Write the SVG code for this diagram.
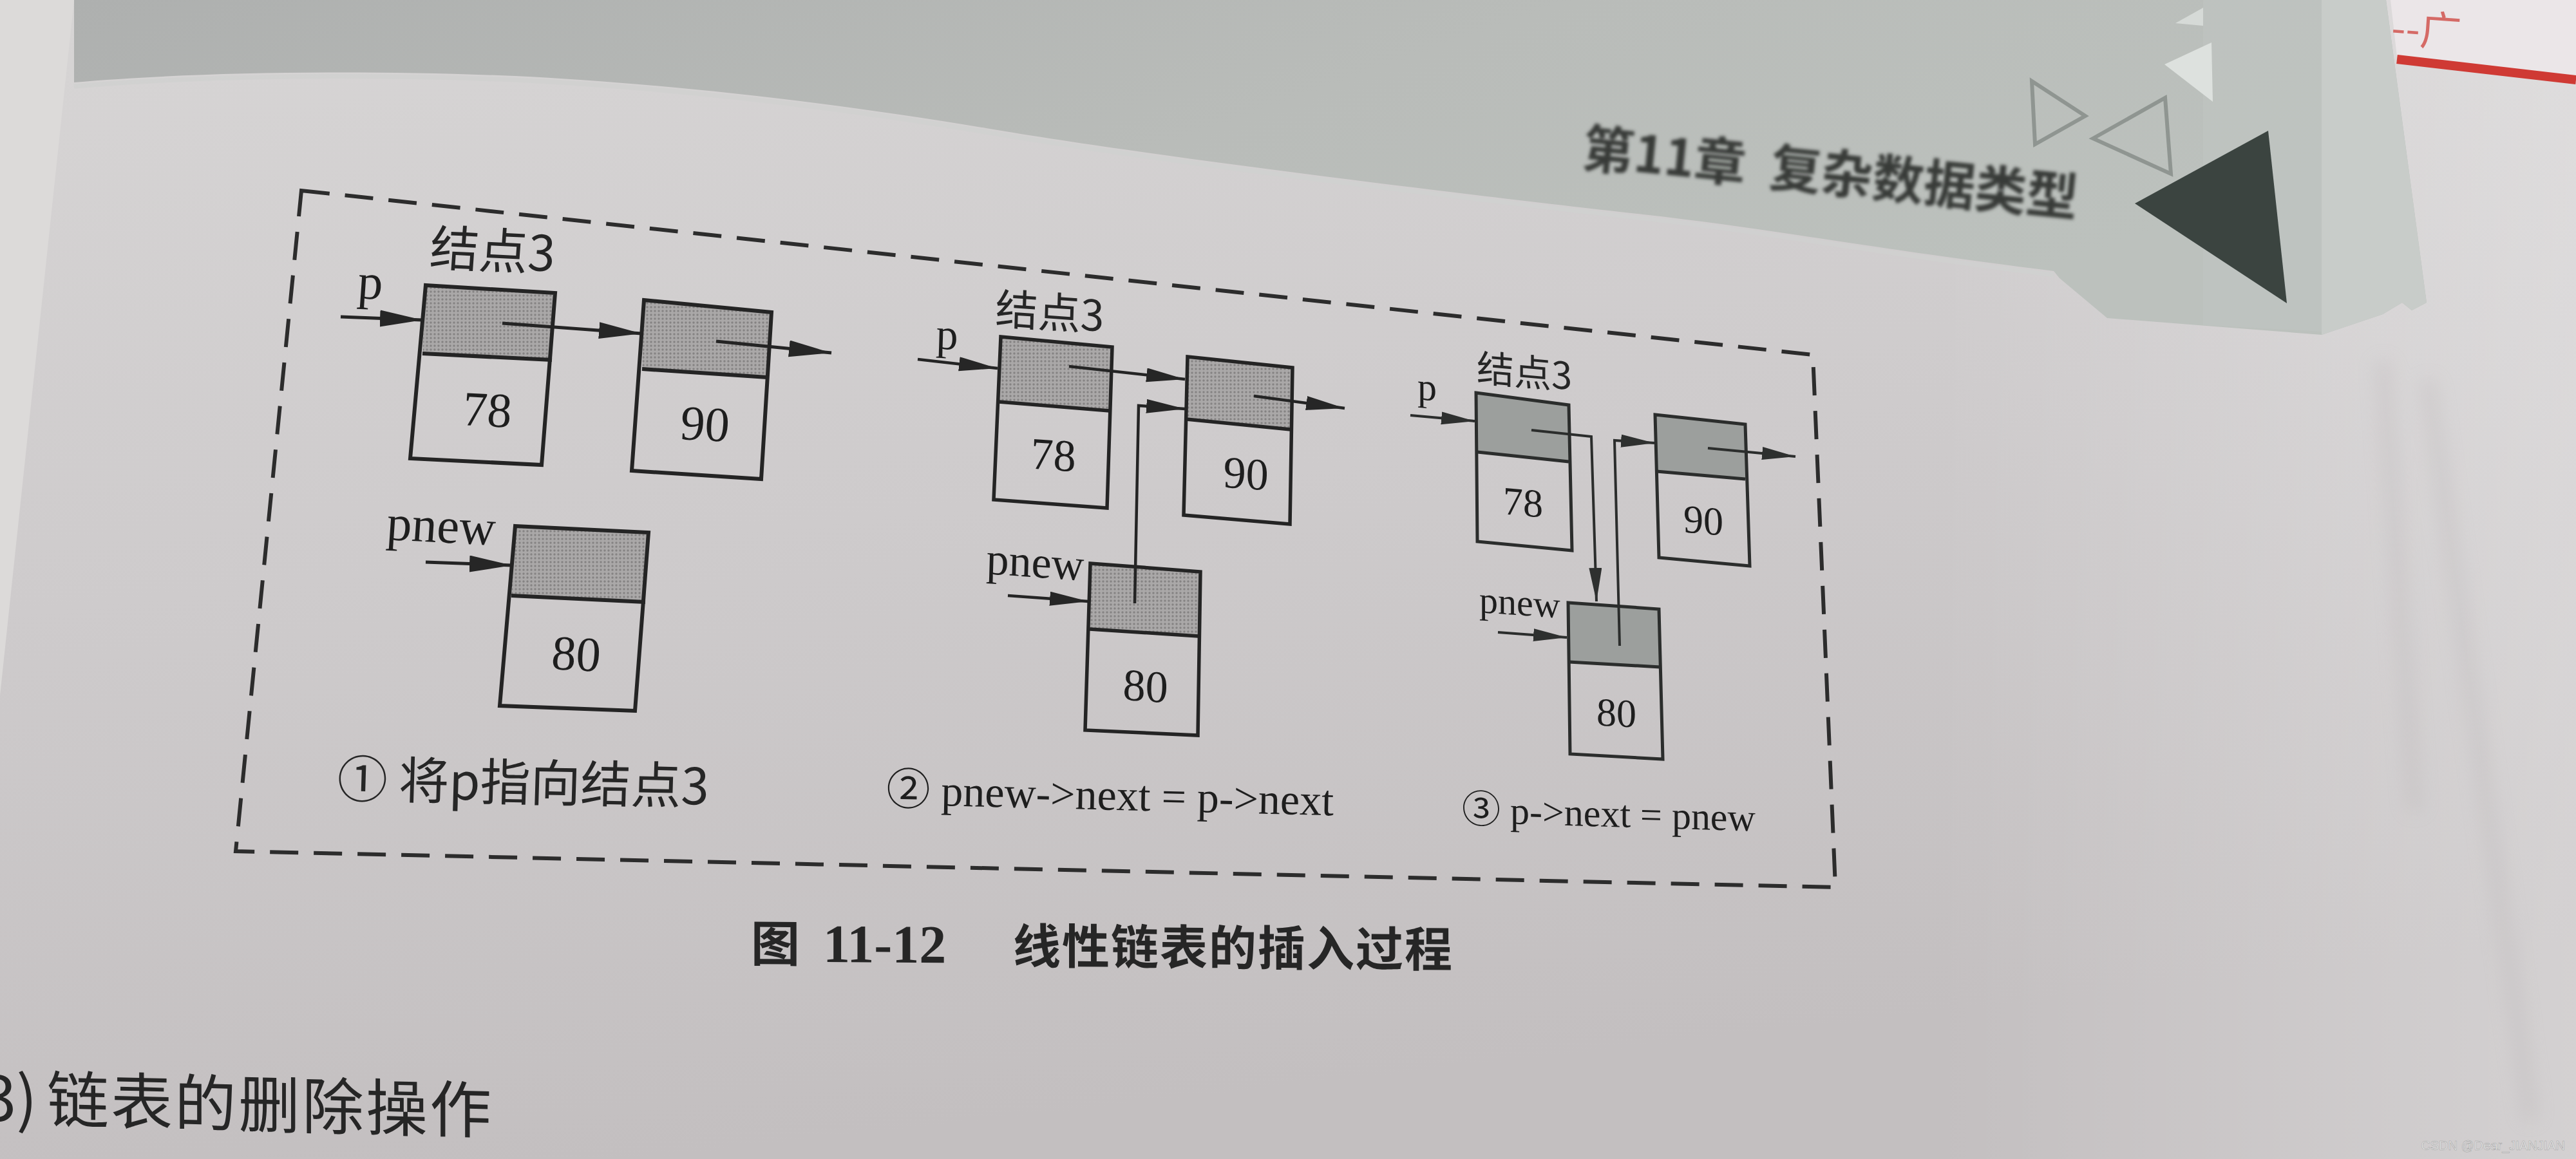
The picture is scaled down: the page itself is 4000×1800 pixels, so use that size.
<svg xmlns="http://www.w3.org/2000/svg" width="4000" height="1800" viewBox="0 0 4000 1800">
<defs>
  <linearGradient id="pageGrad" x1="0" y1="0" x2="0.25" y2="1">
    <stop offset="0" stop-color="#d7d5d5"/>
    <stop offset="0.5" stop-color="#cecbcc"/>
    <stop offset="1" stop-color="#c3bfc0"/>
  </linearGradient>
  <linearGradient id="rightLight" x1="0" y1="0" x2="1" y2="0">
    <stop offset="0.75" stop-color="#ffffff" stop-opacity="0"/>
    <stop offset="1" stop-color="#ffffff" stop-opacity="0.28"/>
  </linearGradient>
  <linearGradient id="bandGrad" x1="0" y1="0" x2="1" y2="0.4">
    <stop offset="0" stop-color="#aeb0af"/>
    <stop offset="0.55" stop-color="#b9bcb9"/>
    <stop offset="1" stop-color="#bcc1bd"/>
  </linearGradient>
  <pattern id="tone" width="6" height="6" patternUnits="userSpaceOnUse">
    <rect width="6" height="6" fill="#aaa8a8"/>
    <circle cx="3" cy="3" r="1.7" fill="#858383"/>
  </pattern>
  <marker id="ah1" markerUnits="userSpaceOnUse" markerWidth="70" markerHeight="30" refX="66" refY="13" orient="auto">
    <path d="M0,0 L66,13 L0,26 z" fill="#262626"/>
  </marker>
  <marker id="ah2" markerUnits="userSpaceOnUse" markerWidth="64" markerHeight="26" refX="60" refY="11" orient="auto">
    <path d="M0,0 L60,11 L0,22 z" fill="#262626"/>
  </marker>
  <marker id="ah3" markerUnits="userSpaceOnUse" markerWidth="56" markerHeight="24" refX="52" refY="10" orient="auto">
    <path d="M0,0 L52,10 L0,20 z" fill="#2e302f"/>
  </marker>
  <filter id="blurHead" x="-5%" y="-20%" width="110%" height="140%"><feGaussianBlur stdDeviation="2.5"/></filter>
  <filter id="blurBig" x="-20%" y="-10%" width="140%" height="120%"><feGaussianBlur stdDeviation="14"/></filter>
</defs>
<style>
  .box{fill:none;stroke:#242424;stroke-width:6;stroke-linejoin:miter}
  .box2{fill:none;stroke:#242424;stroke-width:5.5}
  .box3{fill:none;stroke:#2b2d2c;stroke-width:5}
  .sh1{fill:url(#tone)}
  .sh2{fill:url(#tone)}
  .sh3{fill:#9c9f9d}
  .ln1{fill:none;stroke:#242424;stroke-width:5;marker-end:url(#ah1)}
  .ln2{fill:none;stroke:#242424;stroke-width:4.5;marker-end:url(#ah2)}
  .ln3{fill:none;stroke:#2b2d2c;stroke-width:4;marker-end:url(#ah3)}
  .serif{font-family:"Liberation Serif","Noto Sans CJK SC",serif;fill:#1e1e1e}
  .cjk{font-family:"Noto Sans CJK SC","Liberation Sans",sans-serif;fill:#262626}
  .frame{fill:none;stroke:#2c2c2c;stroke-width:6;stroke-dasharray:44 24}
</style>

<!-- background photo of page -->
<rect x="0" y="0" width="4000" height="1800" fill="url(#pageGrad)"/>
<rect x="0" y="0" width="4000" height="1800" fill="url(#rightLight)"/>
<polygon points="0,0 115,0 0,1080" fill="#dcdad9"/>
<path d="M3700,560 L3750,1260 M3770,590 L3930,1740" stroke="#b4afb1" stroke-width="24" fill="none" filter="url(#blurBig)" opacity="0.25"/>

<!-- header band -->
<path d="M115,0 L3705,0 L3768,470 L3745,482 L3730,470 L3700,488 L3605,520 L3272,494 L3198,432 L3189,421 C2900,385 2750,355 2551,333 C2300,305 1800,245 1531,199 C1250,152 1000,128 800,118 C550,108 300,112 115,128 Z" fill="url(#bandGrad)"/>
<path d="M115,134 C300,118 550,114 800,124 C1000,134 1250,158 1531,205 C1800,251 2300,311 2551,339 C2750,361 2900,391 3189,427" fill="none" stroke="#cfd1cf" stroke-width="7" opacity="0.8"/>
<polygon points="3421,0 3605,0 3605,515 3421,505" fill="#c0c4c1" opacity="0.6"/>
<polygon points="3605,0 3705,0 3768,470 3745,482 3730,470 3700,488 3605,520" fill="#c8ccc9"/>
<!-- top-right other page with red strip -->
<polygon points="3712,0 4000,0 4000,120 3722,88" fill="#ebe6e8"/>
<line x1="3722" y1="92" x2="4000" y2="124" stroke="#cf3a34" stroke-width="14"/>
<text x="3712" y="66" font-family="Noto Sans CJK SC, sans-serif" font-size="64" fill="#d56a66" transform="rotate(4 3712 66)">--广</text>

<!-- header decorations -->
<g id="header-deco">
  <polygon points="3155,126 3160,224 3238,180" fill="none" stroke="#8f9591" stroke-width="6"/>
  <polygon points="3250,215 3362,152 3371,270" fill="none" stroke="#8f9591" stroke-width="6"/>
  <polygon points="3361,100 3434,66 3436,158" fill="#dde1de"/>
  <polygon points="3378,36 3421,12 3421,40" fill="#d6dad7"/>
  <polygon points="3315,316 3522,203 3551,471" fill="#3b4440"/>
</g>
<text id="chapter-title" class="cjk" x="2455" y="258" font-size="80" font-weight="bold" transform="rotate(5.8 2455 258)" filter="url(#blurHead)" style="fill:#373b39">第11章 <tspan dx="20">复杂数据类型</tspan></text>

<!-- dashed frame -->
<polygon class="frame" points="468,296 2815,551 2850,1378 366,1322"/>

<!-- ============ Panel 1 ============ -->
<g id="panel1">
  <text class="cjk" font-size="76" transform="matrix(1 0.05 -0.07 1 666 412)">结点3</text>
  <text class="serif" font-size="78" transform="matrix(1 0.05 -0.07 1 554 463)">p</text>
  <text class="serif" font-size="78" transform="matrix(1 0.05 -0.07 1 599 838)">pnew</text>
  <g id="p1-node78">
    <polygon class="sh1" points="661,443 862,455 857,559 656,549"/>
    <polygon class="box" points="661,443 862,455 841,722 637,712"/>
    <line class="box" x1="656" y1="549" x2="857" y2="559"/>
    <text class="serif" font-size="76" text-anchor="middle" transform="matrix(1 0.05 -0.07 1 755 662)">78</text>
  </g>
  <g id="p1-node90">
    <polygon class="sh1" points="1000,466 1198,485 1191,586 997,573"/>
    <polygon class="box" points="1000,466 1198,485 1182,744 981,731"/>
    <line class="box" x1="997" y1="573" x2="1191" y2="586"/>
    <text class="serif" font-size="76" text-anchor="middle" transform="matrix(1 0.05 -0.07 1 1093 684)">90</text>
  </g>
  <g id="p1-node80">
    <polygon class="sh1" points="800,817 1007,827 1002,935 794,925"/>
    <polygon class="box" points="800,817 1007,827 986,1104 776,1096"/>
    <line class="box" x1="794" y1="925" x2="1002" y2="935"/>
    <text class="serif" font-size="76" text-anchor="middle" transform="matrix(1 0.05 -0.07 1 893 1041)">80</text>
  </g>
  <text class="cjk" font-size="78" transform="matrix(1 0.02 -0.03 1 523 1238)">① 将p指向结点3</text>
</g>

<!-- ============ Panel 2 ============ -->
<g id="panel2">
  <text class="cjk" font-size="66" transform="matrix(1 0.07 -0.03 1 1545 503)">结点3</text>
  <text class="serif" font-size="68" transform="matrix(1 0.07 -0.03 1 1453 541)">p</text>
  <text class="serif" font-size="70" transform="matrix(1 0.07 -0.03 1 1531 891)">pnew</text>
  <g id="p2-node78">
    <polygon class="sh2" points="1554,523 1727,539 1723,638 1551,624"/>
    <polygon class="box2" points="1554,523 1727,539 1719,789 1543,776"/>
    <line class="box2" x1="1551" y1="624" x2="1723" y2="638"/>
    <text class="serif" font-size="70" text-anchor="middle" transform="matrix(1 0.07 -0.03 1 1635 730)">78</text>
  </g>
  <g id="p2-node90">
    <polygon class="sh2" points="1844,554 2007,571 2004,667 1842,651"/>
    <polygon class="box2" points="1844,554 2007,571 2003,814 1838,800"/>
    <line class="box2" x1="1842" y1="651" x2="2004" y2="667"/>
    <text class="serif" font-size="70" text-anchor="middle" transform="matrix(1 0.07 -0.03 1 1934 759)">90</text>
  </g>
  <g id="p2-node80">
    <polygon class="sh2" points="1693,875 1864,888 1861,988 1692,977"/>
    <polygon class="box2" points="1693,875 1864,888 1860,1142 1685,1134"/>
    <line class="box2" x1="1692" y1="977" x2="1861" y2="988"/>
    <text class="serif" font-size="70" text-anchor="middle" transform="matrix(1 0.07 -0.03 1 1778 1089)">80</text>
  </g>
  <text class="serif" font-size="68" transform="matrix(1 0.025 -0.02 1 1376 1249)">② pnew-&gt;next = p-&gt;next</text>
</g>

<!-- ============ Panel 3 ============ -->
<g id="panel3">
  <text class="cjk" font-size="58" transform="matrix(1 0.09 0 1 2293 592)">结点3</text>
  <text class="serif" font-size="60" transform="matrix(1 0.09 0 1 2201 620)">p</text>
  <text class="serif" font-size="58" transform="matrix(1 0.07 0 1 2297 951)">pnew</text>
  <g id="p3-node78">
    <polygon class="sh3" points="2292,610 2436,629 2436,717 2294,702"/>
    <polygon class="box3" points="2292,610 2436,629 2441,855 2294,841"/>
    <line class="box3" x1="2294" y1="702" x2="2436" y2="717"/>
    <text class="serif" font-size="62" text-anchor="middle" transform="matrix(1 0.09 0 1 2365 801)">78</text>
  </g>
  <g id="p3-node90">
    <polygon class="sh3" points="2570,644 2710,659 2710,744 2572,732"/>
    <polygon class="box3" points="2570,644 2710,659 2717,879 2576,866"/>
    <line class="box3" x1="2572" y1="732" x2="2710" y2="744"/>
    <text class="serif" font-size="62" text-anchor="middle" transform="matrix(1 0.09 0 1 2645 829)">90</text>
  </g>
  <g id="p3-node80">
    <polygon class="sh3" points="2435,936 2576,946 2578,1036 2436,1028"/>
    <polygon class="box3" points="2435,936 2576,946 2582,1179 2438,1171"/>
    <line class="box3" x1="2436" y1="1028" x2="2578" y2="1036"/>
    <text class="serif" font-size="62" text-anchor="middle" transform="matrix(1 0.06 0 1 2510 1128)">80</text>
  </g>
  <text class="serif" font-size="60" transform="matrix(1 0.03 0 1 2270 1277)">③ p-&gt;next = pnew</text>
</g>

<!-- ============ connectors ============ -->
<g id="connectors">
  <polyline class="ln1" points="529,492 656,497"/>
  <polyline class="ln1" points="780,502 996,518"/>
  <polyline class="ln1" points="1112,530 1291,548"/>
  <polyline class="ln1" points="661,873 795,878"/>

  <polyline class="ln2" points="1425,558 1549,572"/>
  <polyline class="ln2" points="1660,569 1840,589"/>
  <polyline class="ln2" points="1947,615 2088,634"/>
  <polyline class="ln2" points="1565,925 1690,934"/>
  <polyline class="ln2" points="1762,937 1768,630 1840,635"/>

  <polyline class="ln3" points="2190,645 2290,654"/>
  <polyline class="ln3" points="2378,668 2471,678 2479,934"/>
  <polyline class="ln3" points="2652,696 2788,709"/>
  <polyline class="ln3" points="2515,1003 2507,684 2569,688"/>
  <polyline class="ln3" points="2326,982 2433,990"/>
</g>

<!-- figure caption -->
<text id="fig-caption" class="cjk" font-size="76" font-weight="bold" transform="matrix(1 0.008 0 1 1166 1493)">图<tspan x="112" font-size="84" style="font-family:'Liberation Serif',serif">11-12</tspan><tspan x="407" font-size="74" letter-spacing="2">线性链表的插入过程</tspan></text>

<!-- following section heading -->
<text class="cjk" font-size="96" fill="#1c1c1c" transform="matrix(1 0.025 0 1 -28 1740)">3)<tspan x="101" letter-spacing="3">链表的删除操作</tspan></text>

<!-- watermark -->
<text x="3983" y="1786" text-anchor="end" font-family="Liberation Sans, Arial, sans-serif" font-size="20" fill="#ececec" stroke="#9a9a9a" stroke-width="0.5">CSDN @Dear_JIANJIAN</text>
</svg>
